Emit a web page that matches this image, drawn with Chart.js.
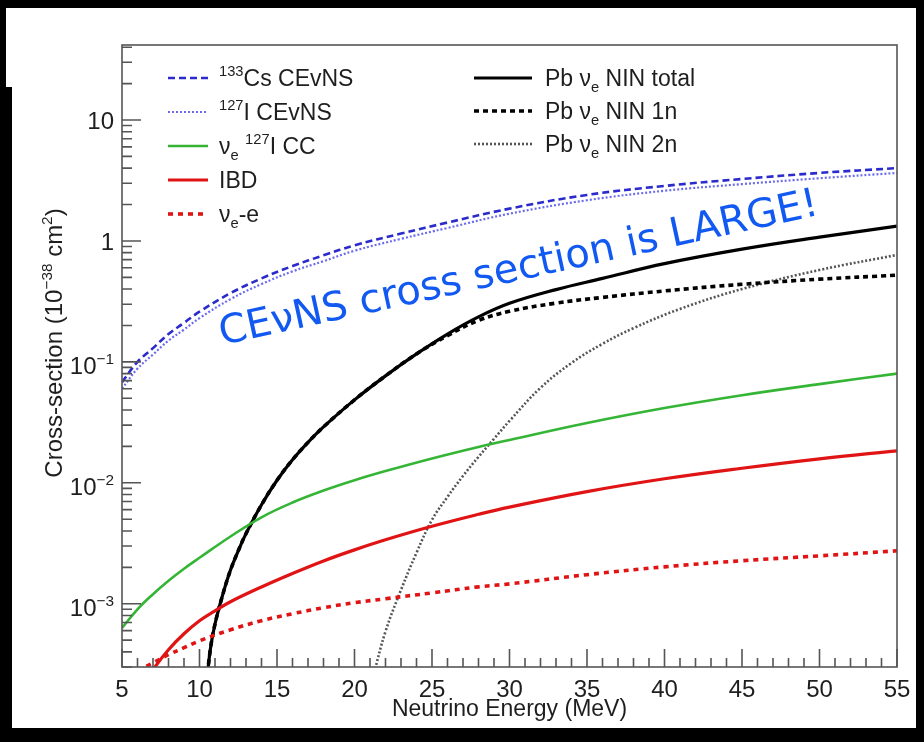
<!DOCTYPE html>
<html>
<head>
<meta charset="utf-8">
<title>Neutrino cross sections</title>
<script src="https://cdn.jsdelivr.net/npm/chart.js@4/dist/chart.umd.min.js"></script>
<style>
  html, body { margin: 0; padding: 0; background: #000; }
  #wrap { position: absolute; left: 0; top: 0; width: 924px; height: 742px; }
</style>
</head>
<body>
<div id="wrap"><canvas id="xsec"></canvas></div>
<script>
// cross sections in units of 1e-38 cm^2 vs neutrino energy in MeV
const eCEvNS = [5, 6, 7, 8, 9, 10, 12, 14, 16, 18, 20, 23, 26, 30, 35, 40, 45, 50, 55];
const csCEvNS = [0.068, 0.1, 0.13, 0.17, 0.21, 0.26, 0.37, 0.49, 0.62, 0.76, 0.92, 1.15, 1.42, 1.85, 2.4, 2.85, 3.25, 3.65, 4.0];
const iCEvNS = [0.06, 0.088, 0.115, 0.15, 0.185, 0.23, 0.33, 0.44, 0.56, 0.68, 0.83, 1.04, 1.28, 1.68, 2.17, 2.6, 2.95, 3.3, 3.65];

const eCC = [5, 6, 7, 8, 9, 10, 12, 14, 16, 18, 20, 22, 25, 28, 30, 35, 40, 45, 50, 55];
const iCC = [6.3e-4, 9e-4, 1.2e-3, 1.55e-3, 1.95e-3, 2.4e-3, 3.6e-3, 5.19e-3, 6.87e-3, 8.63e-3, 0.0105, 0.0125, 0.0159, 0.0198, 0.0226, 0.0312, 0.0415, 0.053, 0.0655, 0.08];

const eIBD = [6.5, 7, 8, 9, 10, 11, 12, 14, 16, 18, 20, 22, 25, 28, 30, 35, 40, 45, 50, 55];
const ibd = [2.2e-4, 2.85e-4, 4.17e-4, 5.65e-4, 7.24e-4, 8.75e-4, 1.04e-3, 1.377e-3, 1.78e-3, 2.26e-3, 2.79e-3, 3.38e-3, 4.37e-3, 5.49e-3, 6.3e-3, 8.46e-3, 0.0108, 0.0132, 0.0158, 0.0184];

const eNuE = [6, 7, 8, 9, 10, 12, 14, 16, 18, 20, 22, 25, 28, 30, 35, 40, 45, 50, 55];
const nuE = [2.79e-4, 3.25e-4, 3.79e-4, 4.33e-4, 4.94e-4, 6.09e-4, 7.24e-4, 8.27e-4, 9.27e-4, 1.02e-3, 1.1e-3, 1.23e-3, 1.38e-3, 1.46e-3, 1.74e-3, 2.02e-3, 2.27e-3, 2.49e-3, 2.74e-3];

const ePb = [10.4, 10.7, 11, 11.5, 12, 12.5, 13, 14, 15, 16, 17, 18, 20, 22, 24, 26, 28, 30, 33, 36, 40, 45, 50, 55];
const pbTotal = [1.9e-4, 4.2e-4, 6.8e-4, 1.19e-3, 1.9e-3, 2.74e-3, 3.8e-3, 6.58e-3, 0.0105, 0.0155, 0.0216, 0.029, 0.0485, 0.0766, 0.1164, 0.17, 0.2355, 0.305, 0.396, 0.49, 0.649, 0.855, 1.075, 1.325];
const pb1n = [1.9e-4, 4.2e-4, 6.8e-4, 1.19e-3, 1.9e-3, 2.74e-3, 3.8e-3, 6.58e-3, 0.0105, 0.0155, 0.0216, 0.029, 0.0485, 0.0766, 0.1164, 0.165, 0.22, 0.262, 0.306, 0.341, 0.386, 0.438, 0.483, 0.521];

const ePb2n = [21.2, 22, 23, 24, 25, 26, 27, 28, 29, 30, 32, 34, 36, 38, 41, 45, 50, 55];
const pb2n = [2.5e-4, 5.9e-4, 1.3e-3, 2.64e-3, 4.94e-3, 7.66e-3, 0.0114, 0.0164, 0.0231, 0.0325, 0.061, 0.098, 0.141, 0.19, 0.274, 0.4, 0.575, 0.766];

// axis ticks
const xMajor = [5, 10, 15, 20, 25, 30, 35, 40, 45, 50, 55];
const yDecades = [-3, -2, -1, 0, 1];

// legend text uses ^{..} for superscripts and _{..} for subscripts
const labels = [
  '^{133}Cs CEvNS', '^{127}I CEvNS', 'ν_{e} ^{127}I CC', 'IBD', 'ν_{e}-e',
  'Pb ν_{e} NIN total', 'Pb ν_{e} NIN 1n', 'Pb ν_{e} NIN 2n'
];

const FONT = '"Liberation Sans", Arial, Helvetica, sans-serif';

function pts(xs, ys) {
  return xs.map((x, i) => ({ x: x, y: ys[i] }));
}

function richParts(str) {
  const parts = [];
  const re = /([\^_])\{([^}]*)\}|([^\^_]+)/g;
  let m;
  while ((m = re.exec(str))) {
    if (m[3]) parts.push({ t: m[3], k: 0 });
    else parts.push({ t: m[2], k: m[1] === '^' ? 1 : -1 });
  }
  return parts;
}

// draws text with super/subscripts, y is the baseline
function richText(ctx, str, x, y, size, align, color) {
  const parts = richParts(str);
  let w = 0;
  parts.forEach(p => {
    p.s = p.k ? size * 0.64 : size;
    ctx.font = p.s + 'px ' + FONT;
    p.w = ctx.measureText(p.t).width;
    w += p.w;
  });
  let cx = align === 'right' ? x - w : align === 'center' ? x - w / 2 : x;
  ctx.fillStyle = color;
  ctx.textAlign = 'left';
  ctx.textBaseline = 'alphabetic';
  parts.forEach(p => {
    ctx.font = p.s + 'px ' + FONT;
    const dy = p.k === 1 ? -size * 0.42 : p.k === -1 ? size * 0.24 : 0;
    ctx.fillText(p.t, cx, y + dy);
    cx += p.w;
  });
  return w;
}

function makeSet(i, xs, ys, color, width, dash) {
  return {
    label: labels[i],
    data: pts(xs, ys),
    borderColor: color,
    borderWidth: width,
    borderDash: dash,
    pointRadius: 0,
    fill: false,
    tension: 0.4
  };
}

const frameAndText = {
  id: 'frameAndText',
  beforeDraw(chart) {
    const ctx = chart.ctx;
    ctx.save();
    ctx.fillStyle = '#000';
    ctx.fillRect(0, 0, chart.width, chart.height);
    ctx.fillStyle = '#fff';
    ctx.fillRect(12, 8, 904, 720);
    ctx.fillRect(6, 8, 8, 79);
    ctx.restore();
  },
  afterDatasetsDraw(chart) {
    const ctx = chart.ctx;
    const a = chart.chartArea;
    const xs = chart.scales.x;
    const ys = chart.scales.y;
    const ink = '#1e1e1e';
    ctx.save();

    // frame
    ctx.strokeStyle = '#555';
    ctx.lineWidth = 1.6;
    ctx.strokeRect(a.left, a.top, a.right - a.left, a.bottom - a.top);

    // x ticks, drawn inward
    ctx.beginPath();
    for (let e = xs.min; e <= xs.max; e++) {
      const px = xs.getPixelForValue(e);
      const len = xMajor.includes(e) ? 18 : 9;
      ctx.moveTo(px, a.bottom);
      ctx.lineTo(px, a.bottom - len);
    }
    // y ticks on the log axis
    for (let d = -4; d <= 1; d++) {
      for (let k = 1; k <= 9; k++) {
        const v = k * Math.pow(10, d);
        if (v < ys.min || v > ys.max) continue;
        const py = ys.getPixelForValue(v);
        const len = k === 1 ? 19 : 10;
        ctx.moveTo(a.left, py);
        ctx.lineTo(a.left + len, py);
      }
    }
    ctx.stroke();

    // tick labels
    xMajor.forEach(e => {
      richText(ctx, String(e), xs.getPixelForValue(e), 697, 24, 'center', ink);
    });
    yDecades.forEach(d => {
      const py = ys.getPixelForValue(Math.pow(10, d));
      const txt = d === 0 ? '1' : d === 1 ? '10' : '10^{−' + (-d) + '}';
      richText(ctx, txt, 114, py + (d < 0 ? 12 : 9), 24, 'right', ink);
    });

    // axis titles
    richText(ctx, 'Neutrino Energy (MeV)', (a.left + a.right) / 2, 716, 23, 'center', ink);
    ctx.save();
    ctx.translate(62, 343);
    ctx.rotate(-Math.PI / 2);
    richText(ctx, 'Cross-section (10^{−38} cm^{2})', 0, 0, 24, 'center', ink);
    ctx.restore();

    // legend, two columns
    const cols = [
      { x0: 168, x1: 208, tx: 219, rows: [78, 112, 146, 180, 214], idx: [0, 1, 2, 3, 4] },
      { x0: 474, x1: 532, tx: 545, rows: [78, 111, 144], idx: [5, 6, 7] }
    ];
    cols.forEach(c => {
      c.idx.forEach((di, r) => {
        const ds = chart.data.datasets[di];
        const y = c.rows[r];
        ctx.save();
        ctx.strokeStyle = ds.borderColor;
        ctx.lineWidth = ds.borderWidth;
        ctx.setLineDash(ds.borderDash || []);
        ctx.beginPath();
        ctx.moveTo(c.x0, y);
        ctx.lineTo(c.x1, y);
        ctx.stroke();
        ctx.restore();
        richText(ctx, ds.label, c.tx, y + 8, 23, 'left', ink);
      });
    });

    // headline across the plot
    const note = 'CEνNS cross section is LARGE!';
    ctx.save();
    ctx.translate(222, 345);
    ctx.rotate(-12.3 * Math.PI / 180);
    ctx.font = '100px "DejaVu Sans"';
    const size = 100 * 612 / ctx.measureText(note).width;
    ctx.font = size.toFixed(1) + 'px "DejaVu Sans"';
    ctx.fillStyle = '#1259f2';
    ctx.textAlign = 'left';
    ctx.textBaseline = 'alphabetic';
    ctx.fillText(note, 0, 0);
    ctx.restore();

    ctx.restore();
  }
};

new Chart(document.getElementById('xsec'), {
  type: 'line',
  data: {
    datasets: [
      makeSet(0, eCEvNS, csCEvNS, '#2b2bcc', 2.6, [7, 4]),
      makeSet(1, eCEvNS, iCEvNS, '#6b6bee', 2.2, [2, 2]),
      makeSet(2, eCC, iCC, '#35b535', 2.6, []),
      makeSet(3, eIBD, ibd, '#e01414', 3.2, []),
      makeSet(4, eNuE, nuE, '#e01414', 3.6, [5, 5]),
      makeSet(5, ePb, pbTotal, '#000000', 3.2, []),
      makeSet(6, ePb, pb1n, '#000000', 3.6, [5, 4]),
      makeSet(7, ePb2n, pb2n, '#555555', 2.6, [2, 2])
    ]
  },
  options: {
    responsive: true,
    maintainAspectRatio: false,
    animation: false,
    layout: { padding: { left: 122, right: 27, top: 45, bottom: 75 } },
    plugins: { legend: { display: false }, tooltip: { enabled: false } },
    scales: {
      x: { type: 'linear', min: 5, max: 55, display: false },
      y: { type: 'logarithmic', min: 3.01e-4, max: 41.7, display: false }
    }
  },
  plugins: [frameAndText]
});
</script>
</body>
</html>
